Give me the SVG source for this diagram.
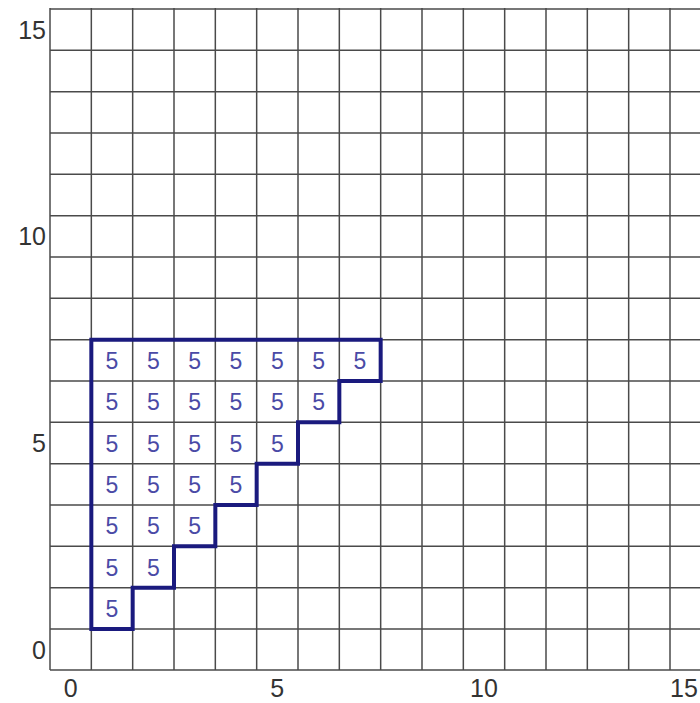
<svg xmlns="http://www.w3.org/2000/svg" width="700" height="703" viewBox="0 0 700 703">
<style>
.grid line{stroke:#4a4a4a;stroke-width:1.5}
.ax{font-family:"Liberation Sans",Arial,sans-serif;font-size:25px;fill:#333}
.v{font-family:"Liberation Sans",Arial,sans-serif;font-size:23px;fill:#4a4aa6;text-anchor:middle}
.stair{fill:none;stroke:#1a1a7e;stroke-width:4;stroke-linejoin:miter}
</style>
<rect width="700" height="703" fill="#fff"/>
<g id="grid" class="grid">
<line x1="50" y1="8" x2="50" y2="670"/>
<line x1="91.33" y1="8" x2="91.33" y2="670"/>
<line x1="132.67" y1="8" x2="132.67" y2="670"/>
<line x1="174" y1="8" x2="174" y2="670"/>
<line x1="215.33" y1="8" x2="215.33" y2="670"/>
<line x1="256.67" y1="8" x2="256.67" y2="670"/>
<line x1="298" y1="8" x2="298" y2="670"/>
<line x1="339.33" y1="8" x2="339.33" y2="670"/>
<line x1="380.67" y1="8" x2="380.67" y2="670"/>
<line x1="422" y1="8" x2="422" y2="670"/>
<line x1="463.33" y1="8" x2="463.33" y2="670"/>
<line x1="504.67" y1="8" x2="504.67" y2="670"/>
<line x1="546" y1="8" x2="546" y2="670"/>
<line x1="587.33" y1="8" x2="587.33" y2="670"/>
<line x1="628.67" y1="8" x2="628.67" y2="670"/>
<line x1="670" y1="8" x2="670" y2="670"/>
<line x1="50" y1="9" x2="700" y2="9"/>
<line x1="50" y1="50.33" x2="700" y2="50.33"/>
<line x1="50" y1="91.67" x2="700" y2="91.67"/>
<line x1="50" y1="133" x2="700" y2="133"/>
<line x1="50" y1="174.33" x2="700" y2="174.33"/>
<line x1="50" y1="215.67" x2="700" y2="215.67"/>
<line x1="50" y1="257" x2="700" y2="257"/>
<line x1="50" y1="298.33" x2="700" y2="298.33"/>
<line x1="50" y1="339.67" x2="700" y2="339.67"/>
<line x1="50" y1="381" x2="700" y2="381"/>
<line x1="50" y1="422.33" x2="700" y2="422.33"/>
<line x1="50" y1="463.67" x2="700" y2="463.67"/>
<line x1="50" y1="505" x2="700" y2="505"/>
<line x1="50" y1="546.33" x2="700" y2="546.33"/>
<line x1="50" y1="587.67" x2="700" y2="587.67"/>
<line x1="50" y1="629" x2="700" y2="629"/>
<line x1="50" y1="670" x2="700" y2="670"/>
</g>
<g id="y-axis" class="ax" text-anchor="end">
<text x="46" y="659">0</text>
<text x="46" y="452">5</text>
<text x="46" y="245">10</text>
<text x="46" y="39">15</text>
</g>
<g id="x-axis" class="ax" text-anchor="middle">
<text x="70.7" y="697">0</text>
<text x="277.3" y="697">5</text>
<text x="484" y="697">10</text>
<text x="684" y="697">15</text>
</g>
<g id="staircase">
<path class="stair" d="M91.33,339.67 H380.67 V381 H339.33 V422.33 H298 V463.67 H256.67 V505 H215.33 V546.33 H174 V587.67 H132.67 V629 H91.33 Z"/>
</g>
<g id="values" class="v">
<text x="112" y="369">5</text><text x="153.3" y="369">5</text><text x="194.7" y="369">5</text><text x="236" y="369">5</text><text x="277.3" y="369">5</text><text x="318.7" y="369">5</text><text x="360" y="369">5</text>
<text x="112" y="410.3">5</text><text x="153.3" y="410.3">5</text><text x="194.7" y="410.3">5</text><text x="236" y="410.3">5</text><text x="277.3" y="410.3">5</text><text x="318.7" y="410.3">5</text>
<text x="112" y="451.7">5</text><text x="153.3" y="451.7">5</text><text x="194.7" y="451.7">5</text><text x="236" y="451.7">5</text><text x="277.3" y="451.7">5</text>
<text x="112" y="493">5</text><text x="153.3" y="493">5</text><text x="194.7" y="493">5</text><text x="236" y="493">5</text>
<text x="112" y="534.3">5</text><text x="153.3" y="534.3">5</text><text x="194.7" y="534.3">5</text>
<text x="112" y="575.7">5</text><text x="153.3" y="575.7">5</text>
<text x="112" y="617">5</text>
</g>
</svg>
